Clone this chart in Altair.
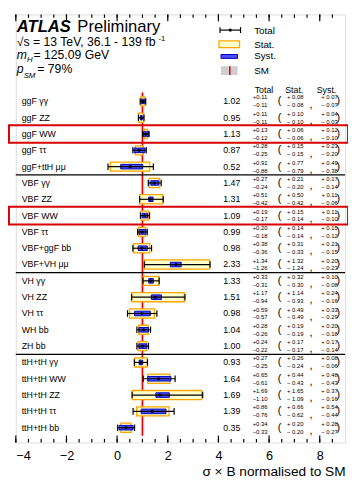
import altair as alt
import pandas as pd

labels = ["ggF γγ", "ggF ZZ", "ggF WW", "ggF ττ", "ggF+ttH μμ",
          "VBF γγ", "VBF ZZ", "VBF WW", "VBF ττ", "VBF+ggF bb", "VBF+VH μμ",
          "VH γγ", "VH ZZ", "VH ττ", "WH bb", "ZH bb",
          "ttH+tH γγ", "ttH+tH WW", "ttH+tH ZZ", "ttH+tH ττ", "ttH+tH bb"]
mu = [1.02, 0.95, 1.13, 0.87, 0.52, 1.47, 1.31, 1.09, 0.99, 0.98, 2.33,
      1.33, 1.51, 0.98, 1.04, 1.00, 0.93, 1.64, 1.69, 1.39, 0.35]
tot_up = [0.11, 0.11, 0.13, 0.28, 0.91, 0.27, 0.51, 0.19, 0.20, 0.38, 1.34,
          0.33, 1.17, 0.59, 0.28, 0.24, 0.27, 0.65, 1.69, 0.86, 0.34]
tot_dn = [0.11, 0.11, 0.12, 0.25, 0.88, 0.24, 0.42, 0.17, 0.18, 0.36, 1.26,
          0.31, 0.94, 0.57, 0.26, 0.22, 0.25, 0.61, 1.10, 0.76, 0.33]
stat_up = [0.08, 0.10, 0.06, 0.15, 0.77, 0.21, 0.50, 0.15, 0.14, 0.31, 1.32,
           0.32, 1.14, 0.49, 0.19, 0.17, 0.26, 0.44, 1.65, 0.66, 0.20]
stat_dn = [0.08, 0.10, 0.06, 0.15, 0.79, 0.20, 0.42, 0.14, 0.14, 0.33, 1.24,
           0.30, 0.93, 0.49, 0.19, 0.17, 0.24, 0.43, 1.09, 0.62, 0.20]
syst_up = [0.07, 0.04, 0.12, 0.23, 0.49, 0.17, 0.11, 0.11, 0.15, 0.21, 0.20,
           0.10, 0.24, 0.33, 0.20, 0.17, 0.08, 0.48, 0.37, 0.54, 0.28]
syst_dn = [0.07, 0.03, 0.10, 0.20, 0.38, 0.14, 0.06, 0.10, 0.12, 0.15, 0.23,
           0.08, 0.16, 0.29, 0.18, 0.14, 0.06, 0.43, 0.16, 0.44, 0.27]
highlighted = ["ggF WW", "VBF WW"]
separators = [4.5, 10.5, 15.5]
major_ticks = [-4, -2, 0, 2, 4, 6, 8]
minor_ticks = [v / 2 for v in range(-8, 18)]

FONT = "Liberation Sans"
W, H = 337, 438

rows = list(range(len(labels)))
df = pd.DataFrame({
    "row": rows, "label": labels, "mu": mu,
    "tu": tot_up, "td": tot_dn, "su": stat_up, "sd": stat_dn,
    "yu": syst_up, "yd": syst_dn,
})
df["lo"] = df.mu - df.td
df["hi"] = df.mu + df.tu
df["slo"] = df.mu - df.sd
df["shi"] = df.mu + df.su
df["ylo"] = df.mu - df.yd
df["yhi"] = df.mu + df.yu
df["r_stat0"] = df.row - 0.28
df["r_stat1"] = df.row + 0.28
df["r_syst0"] = df.row - 0.14
df["r_syst1"] = df.row + 0.14
df["r_cap0"] = df.row - 0.2
df["r_cap1"] = df.row + 0.2
df["r_up"] = df.row - 0.24
df["r_dn"] = df.row + 0.24
df["r_box0"] = df.row - 0.54
df["r_box1"] = df.row + 0.54
df["val_t"] = df.mu.map(lambda v: f"{v:.2f}")
df["tu_t"] = df.tu.map(lambda v: f"+{v:.2f}")
df["td_t"] = df.td.map(lambda v: f"\u2212{v:.2f}")
df["su_t"] = df.su.map(lambda v: f"+ {v:.2f}")
df["sd_t"] = df.sd.map(lambda v: f"\u2212 {v:.2f}")
df["yu_t"] = df.yu.map(lambda v: f"+ {v:.2f}")
df["yd_t"] = df.yd.map(lambda v: f"\u2212 {v:.2f}")

xscale = alt.Scale(domain=[-4, 9], nice=False, zero=False)
yscale = alt.Scale(domain=[-5.33, 20.9], reverse=True, nice=False, zero=False)
xaxis = alt.Axis(values=major_ticks, title="σ × B normalised to SM", ticks=False,
                 domain=False, grid=False, labelFontSize=13, labelFont=FONT,
                 labelColor="black", labelPadding=8, titleFont=FONT,
                 titleFontSize=14, titleFontWeight="normal", titleColor="black",
                 titleAnchor="end", titlePadding=2)


def X(f):
    return alt.X(f, type="quantitative", scale=xscale, axis=xaxis)


def Y(f):
    return alt.Y(f, type="quantitative", scale=yscale, axis=None)


base = alt.Chart(df)
one = alt.Chart(pd.DataFrame({"k": [0]}))

sm_df = pd.DataFrame({"x0": [0.93], "x1": [1.07], "xc": [1.0], "y0": [-0.55], "y1": [20.5]})
sm_band = alt.Chart(sm_df).mark_rect(color="#cfcfcf").encode(
    x=X("x0"), x2="x1", y=Y("y0"), y2="y1")
sm_line = alt.Chart(sm_df).mark_rule(color="#e00000", strokeWidth=1.2).encode(
    x=X("xc"), y=Y("y0"), y2="y1")

sep_df = pd.DataFrame({"r": separators, "x0": [-4] * 3, "x1": [9] * 3})
sep = alt.Chart(sep_df).mark_rule(color="black", strokeWidth=1.3).encode(
    x=X("x0"), x2="x1", y=Y("r"))

stat = base.mark_rect(fill="#ffffcc", stroke="#ffa500", strokeWidth=1.3).encode(
    x=X("slo"), x2="shi", y=Y("r_stat0"), y2="r_stat1")
syst = base.mark_rect(fill="#4d4dff", stroke="#0000c0", strokeWidth=1).encode(
    x=X("ylo"), x2="yhi", y=Y("r_syst0"), y2="r_syst1")
tot = base.mark_rule(color="black", strokeWidth=1.2).encode(
    x=X("lo"), x2="hi", y=Y("row"))
cap_lo = base.mark_rule(color="black", strokeWidth=1.2).encode(
    x=X("lo"), y=Y("r_cap0"), y2="r_cap1")
cap_hi = base.mark_rule(color="black", strokeWidth=1.2).encode(
    x=X("hi"), y=Y("r_cap0"), y2="r_cap1")
dot = base.mark_point(filled=True, color="black", size=10, opacity=1).encode(
    x=X("mu"), y=Y("row"))

boxes = base.transform_filter(
    alt.FieldOneOfPredicate(field="label", oneOf=highlighted)
).mark_rect(fill=None, stroke="#d80000", strokeWidth=2).encode(
    x=alt.value(-7), x2=alt.value(340), y=Y("r_box0"), y2="r_box1")

txt = dict(font=FONT, color="black")
lab = base.mark_text(align="left", baseline="middle", fontSize=9, **txt).encode(
    x=alt.value(6), y=Y("row"), text="label:N")
val = base.mark_text(align="center", baseline="middle", fontSize=9, **txt).encode(
    x=alt.value(221), y=Y("row"), text="val_t:N")
small = dict(align="center", baseline="middle", fontSize=6, **txt)
t_up = base.mark_text(**small).encode(x=alt.value(250), y=Y("r_up"), text="tu_t:N")
t_dn = base.mark_text(**small).encode(x=alt.value(250), y=Y("r_dn"), text="td_t:N")
s_up = base.mark_text(**small).encode(x=alt.value(286), y=Y("r_up"), text="su_t:N")
s_dn = base.mark_text(**small).encode(x=alt.value(286), y=Y("r_dn"), text="sd_t:N")
y_up = base.mark_text(**small).encode(x=alt.value(321), y=Y("r_up"), text="yu_t:N")
y_dn = base.mark_text(**small).encode(x=alt.value(321), y=Y("r_dn"), text="yd_t:N")
par = dict(align="center", baseline="middle", fontSize=11, **txt)
p_open = base.mark_text(**par).encode(x=alt.value(270), y=Y("row"), text=alt.value("("))
p_close = base.mark_text(**par).encode(x=alt.value(330), y=Y("row"), text=alt.value(")"))
comma = base.mark_text(**par).encode(x=alt.value(302), y=Y("r_cap1"), text=alt.value(","))

# frame ticks (inward)
maj_df = pd.DataFrame({"t": major_ticks})
min_df = pd.DataFrame({"t": minor_ticks})
ticks = [
    alt.Chart(maj_df).mark_rule(color="black", strokeWidth=1.2).encode(
        x=X("t"), y=alt.value(H), y2=alt.value(H - 7)),
    alt.Chart(min_df).mark_rule(color="black", strokeWidth=1.2).encode(
        x=X("t"), y=alt.value(H), y2=alt.value(H - 3.5)),
    alt.Chart(maj_df).mark_rule(color="black", strokeWidth=1.2).encode(
        x=X("t"), y=alt.value(0), y2=alt.value(7)),
    alt.Chart(min_df).mark_rule(color="black", strokeWidth=1.2).encode(
        x=X("t"), y=alt.value(0), y2=alt.value(3.5)),
]


def T(text, x, y, size, **kw):
    return one.mark_text(align="left", baseline="alphabetic", fontSize=size,
                         font=FONT, color="black", **kw).encode(
        x=alt.value(x), y=alt.value(y), text=alt.value(text))


titles = [
    T("ATLAS", 1, 18, 17, fontWeight="bold", fontStyle="italic"),
    T("Preliminary", 63, 18, 17),
    T("√s = 13 TeV, 36.1 - 139 fb", 1, 32, 12.5),
    T("-1", 146, 27, 8),
    T("m", 1, 45.5, 12.5, fontStyle="italic"),
    T("H", 11.5, 49, 8, fontStyle="italic"),
    T("= 125.09 GeV", 18, 45.5, 12.5),
    T("p", 1, 60, 12.5, fontStyle="italic"),
    T("SM", 8, 65, 8, fontStyle="italic"),
    T("= 79%", 22, 60, 12.5),
]

leg = [
    one.mark_rule(color="black", strokeWidth=1.2).encode(
        x=alt.value(209), x2=alt.value(230), y=alt.value(16)),
    one.mark_rule(color="black", strokeWidth=1.2).encode(
        x=alt.value(209), y=alt.value(13), y2=alt.value(19)),
    one.mark_rule(color="black", strokeWidth=1.2).encode(
        x=alt.value(230), y=alt.value(13), y2=alt.value(19)),
    one.mark_point(filled=True, color="black", size=10, opacity=1).encode(
        x=alt.value(219.5), y=alt.value(16)),
    one.mark_rect(fill="#ffffcc", stroke="#ffa500", strokeWidth=1.3).encode(
        x=alt.value(208), x2=alt.value(229), y=alt.value(27), y2=alt.value(34)),
    one.mark_rect(fill="#4d4dff", stroke="#0000c0", strokeWidth=1).encode(
        x=alt.value(210), x2=alt.value(227), y=alt.value(41), y2=alt.value(45)),
    one.mark_rect(fill="#cfcfcf").encode(
        x=alt.value(210), x2=alt.value(227), y=alt.value(53), y2=alt.value(62)),
    one.mark_rule(color="#e00000", strokeWidth=1.5).encode(
        x=alt.value(219), y=alt.value(53), y2=alt.value(62)),
]
for s, yy in [("Total", 17), ("Stat.", 31), ("Syst.", 43), ("SM", 58)]:
    leg.append(one.mark_text(align="left", baseline="middle", fontSize=10,
                             font=FONT, color="black").encode(
        x=alt.value(244), y=alt.value(yy), text=alt.value(s)))
for s, xx in [("Total", 254), ("Stat.", 285), ("Syst.", 318)]:
    leg.append(one.mark_text(align="center", baseline="middle", fontSize=9,
                             font=FONT, color="black").encode(
        x=alt.value(xx), y=alt.value(77), text=alt.value(s)))

layers = [sm_band, sm_line, sep, stat, syst, tot, cap_lo, cap_hi, dot, boxes,
          lab, val, t_up, t_dn, s_up, s_dn, y_up, y_dn, p_open, p_close, comma]
layers += ticks + titles + leg

chart = alt.layer(*layers).properties(
    width=W, height=H,
    autosize=alt.AutoSizeParams(type="none"),
    padding={"left": 8, "top": 1, "right": 3, "bottom": 37},
).configure_view(stroke="black", strokeWidth=1.5).configure(background="white")

chart.save("out.html", embed_options={"renderer": "svg", "actions": False})
